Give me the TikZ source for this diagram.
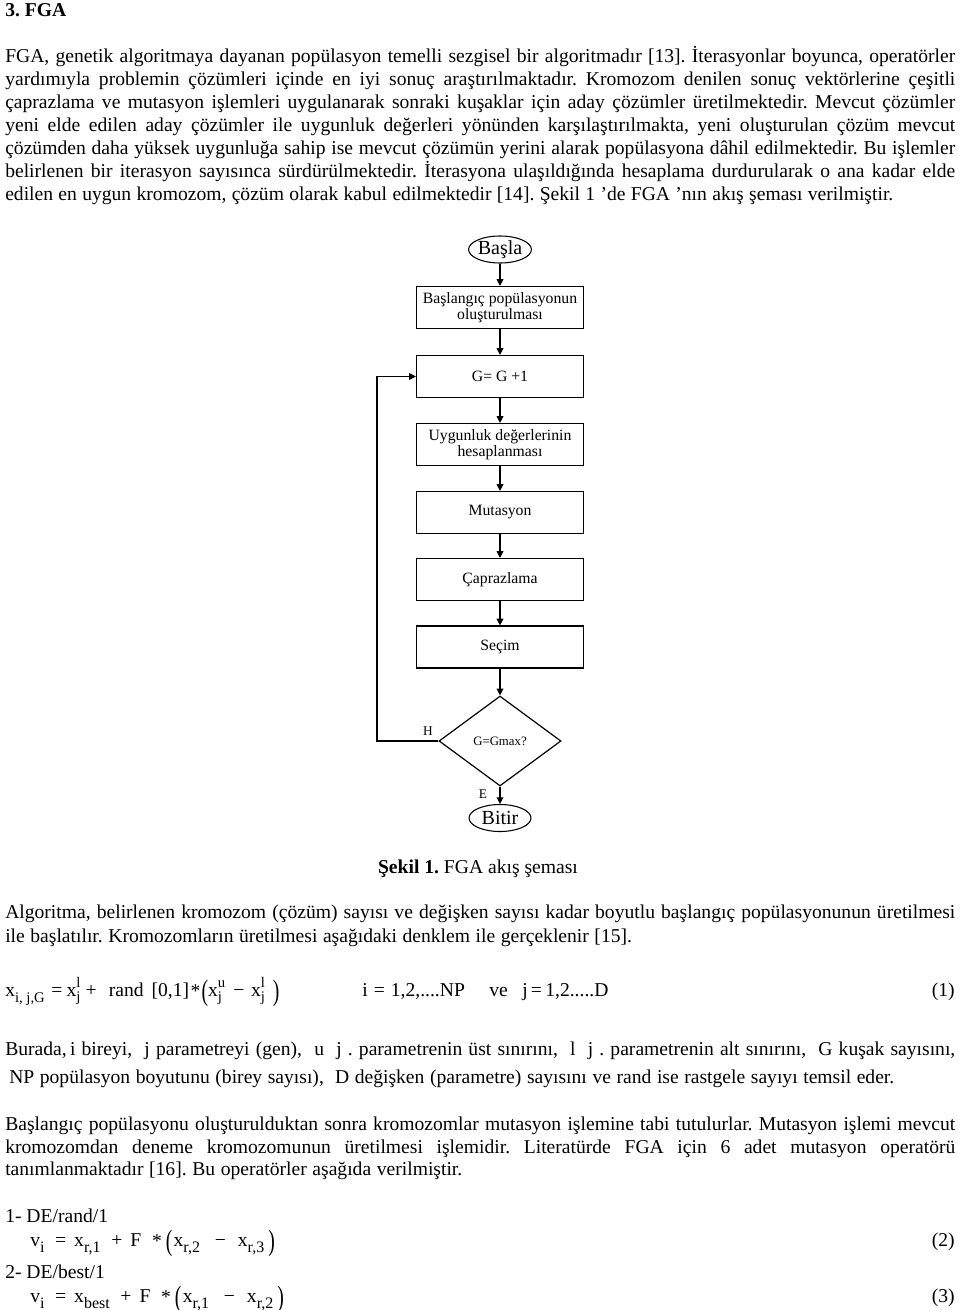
\documentclass[tikz,border=0pt]{standalone}
\usepackage{fontspec}
\setmainfont{Liberation Serif}
\usepackage{graphicx}
\usetikzlibrary{shapes.geometric,arrows.meta}
\newcommand\subf{\fontsize{11}{11}\selectfont}
\newcommand\subg{\fontsize{12}{12}\selectfont}
\newcommand\su[2]{\raisebox{-4pt}{\subf\rlap{#2}}\raisebox{6.5pt}{\subf #1}\kern1pt}
\newcommand\lo[1]{\raisebox{-4.5pt}{\subf #1}}
\newcommand\loo[1]{\raisebox{-4.5pt}{\subg #1}}
\newcommand\bigp[1]{\raisebox{-3pt}{\scalebox{1}[1.5]{#1}}}
\newcommand\J[2][712.5pt]{\makebox[#1][s]{#2}}
\newcommand\hs[1]{\hspace{#1pt}}
\frenchspacing
\begin{document}
\begin{tikzpicture}[x=0.75pt,y=-0.75pt,
  txt/.style={anchor=base west,inner sep=0,font=\fontsize{14.7}{17}\selectfont\frenchspacing},
  txte/.style={anchor=base east,inner sep=0,font=\fontsize{14.7}{17}\selectfont},
  fbox/.style={draw,line width=0.9pt,minimum width=125.25pt,minimum height=31.5pt,inner sep=0,align=center,font=\fontsize{11.8}{12.4}\selectfont},
  term/.style={draw,line width=0.8pt,ellipse,minimum width=46.5pt,minimum height=20.25pt,inner sep=0,font=\fontsize{15}{15}\selectfont},
  dec/.style={draw,line width=0.9pt,diamond,minimum width=91.5pt,minimum height=67.5pt,inner sep=0,font=\fontsize{9.6}{10}\selectfont},
  arr/.style={line width=0.9pt,-{Triangle[length=5pt,width=5pt]}},
  lab/.style={inner sep=0,font=\fontsize{10}{10}\selectfont}]
\useasboundingbox (0,0) rectangle (960,1310);
\fill[white] (0,0) rectangle (960,1310);
% heading
\node[txt,font=\fontsize{14.7}{17}\selectfont\bfseries] (head) at (5,16) {3. FGA};
% paragraph 1
\node[txt] (p1a) at (5,62) {\J{FGA, genetik algoritmaya dayanan popülasyon temelli sezgisel bir algoritmadır [13]. İterasyonlar boyunca, operatörler}};
\node[txt] (p1b) at (5,85) {\J{yardımıyla problemin çözümleri içinde en iyi sonuç araştırılmaktadır. Kromozom denilen sonuç vektörlerine çeşitli}};
\node[txt] (p1c) at (5,108) {\J{çaprazlama ve mutasyon işlemleri uygulanarak sonraki kuşaklar için aday çözümler üretilmektedir. Mevcut çözümler}};
\node[txt] (p1d) at (5,131) {\J{yeni elde edilen aday çözümler ile uygunluk değerleri yönünden karşılaştırılmakta, yeni oluşturulan çözüm mevcut}};
\node[txt] (p1e) at (5,154) {\J{çözümden daha yüksek uygunluğa sahip ise mevcut çözümün yerini alarak popülasyona dâhil edilmektedir. Bu işlemler}};
\node[txt] (p1f) at (5,177) {\J{belirlenen bir iterasyon sayısınca sürdürülmektedir. İterasyona ulaşıldığında hesaplama durdurularak o ana kadar elde}};
\node[txt] (p1g) at (5,200) {\J[666pt]{edilen en uygun kromozom, çözüm olarak kabul edilmektedir [14]. Şekil 1 ’de FGA ’nın akış şeması verilmiştir.}};
% flowchart
\node[term] (start) at (500,249.5) {Başla};
\node[fbox] (b1) at (500,307.5) {Başlangıç popülasyonun\\oluşturulması};
\node[fbox] (b2) at (500,376.5) {G= G +1};
\node[fbox] (b3) at (500,444.5) {Uygunluk değerlerinin\\hesaplanması};
\node[fbox] (b4) at (500,512.5) {Mutasyon};
\node[fbox] (b5) at (500,579.5) {Çaprazlama};
\node[fbox] (b6) at (500,647) {Seçim};
\node[dec] (d) at (500,741) {G=Gmax?};
\node[term] (stop) at (500,818) {Bitir};
\coordinate (lp) at (377,741);
\draw[arr] (start) -- (b1);
\draw[arr] (b1) -- (b2);
\draw[arr] (b2) -- (b3);
\draw[arr] (b3) -- (b4);
\draw[arr] (b4) -- (b5);
\draw[arr] (b5) -- (b6);
\draw[arr] (b6) -- (d);
\draw[arr] (d) -- (stop);
\draw[arr] (d.west) -- (lp) |- (b2.west);
\node[lab] (hl) at (428,731) {H};
\node[lab] (el) at (483,794) {E};
% caption
\node[anchor=base,inner sep=0,font=\fontsize{14.7}{17}\selectfont] (cap) at (478,873) {\textbf{Şekil 1.} FGA akış şeması};
% paragraph 2
\node[txt] (p2a) at (5,918) {\J{Algoritma, belirlenen kromozom (çözüm) sayısı ve değişken sayısı kadar boyutlu başlangıç popülasyonunun üretilmesi}};
\node[txt] (p2b) at (5,942) {\J[470pt]{ile başlatılır. Kromozomların üretilmesi aşağıdaki denklem ile gerçeklenir [15].}};
% equation 1
\node[txt] (eq1) at (5,996) {x\lo{i, j,G}\hs{5}=\hs{3}x\su{l}{j}\hs{3}+\hs{9}rand\hs{6}[0,1]\hs{1}\raisebox{-1pt}{*}\hs{1}\bigp{(}x\su{u}{j}\hs{5}−\hs{5}x\su{l}{j}\hs{5}\bigp{)}};
\node[txt] (eq1i) at (362,996) {\J[77pt]{i = 1,2,....NP}};
\node[txt] (eq1v) at (489,996) {ve};
\node[txt] (eq1j) at (522,996) {\J[63pt]{j = 1,2.....D}};
\node[txte] (n1) at (955,996) {(1)};
% paragraph 3
\node[txt] (p3a) at (5,1055) {\J{Burada,\,i bireyi, \ j parametreyi (gen), \ u \ j . parametrenin üst sınırını, \ l \ j . parametrenin alt sınırını, \ G kuşak sayısını,}};
\node[txt] (p3b) at (9,1083) {\J[663.75pt]{NP popülasyon boyutunu (birey sayısı), \ D değişken (parametre) sayısını ve rand ise rastgele sayıyı temsil eder.}};
% paragraph 4
\node[txt] (p4a) at (5,1130) {\J{Başlangıç popülasyonu oluşturulduktan sonra kromozomlar mutasyon işlemine tabi tutulurlar. Mutasyon işlemi mevcut}};
\node[txt] (p4b) at (5,1153) {\J{kromozomdan deneme kromozomunun üretilmesi işlemidir. Literatürde FGA için 6 adet mutasyon operatörü}};
\node[txt] (p4c) at (5,1175) {\J[342.75pt]{tanımlanmaktadır [16]. Bu operatörler aşağıda verilmiştir.}};
% operators
\node[txt] (o1) at (5,1222) {1- DE/rand/1};
\node[txt] (eq2) at (30,1246) {v\loo{i}\hs{8}=\hs{6}x\loo{r,1}\hs{8}+\hs{6}F\hs{8}\raisebox{-1pt}{*}\hs{3}\bigp{(}\hs{1}x\loo{r,2}\hs{11}−\hs{9}x\loo{r,3}\hs{3}\bigp{)}};
\node[txte] (n2) at (955,1246) {(2)};
\node[txt] (o2) at (5,1278) {2- DE/best/1};
\node[txt] (eq3) at (30,1302) {v\loo{i}\hs{8}=\hs{6}x\loo{best}\hs{8}+\hs{6}F\hs{8}\raisebox{-1pt}{*}\hs{3}\bigp{(}\hs{1}x\loo{r,1}\hs{11}−\hs{9}x\loo{r,2}\hs{3}\bigp{)}};
\node[txte] (n3) at (955,1302) {(3)};
\end{tikzpicture}
\end{document}
